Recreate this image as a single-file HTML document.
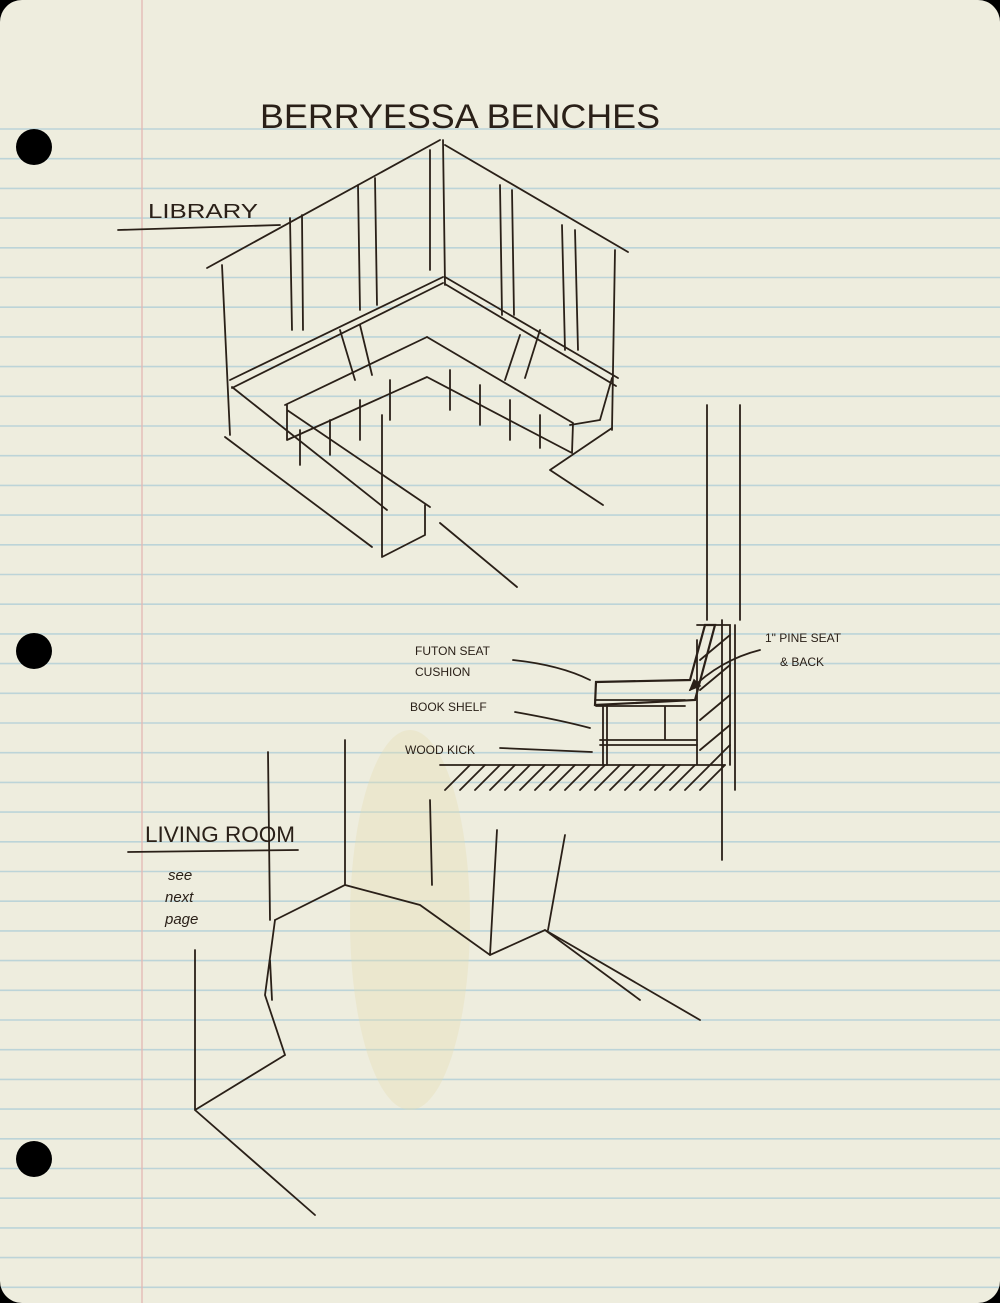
<!DOCTYPE html>
<html><head><meta charset="utf-8"><style>
html,body{margin:0;padding:0;background:#000;}
#p{position:relative;width:1000px;height:1303px;background:#eeedde;border-radius:22px;overflow:hidden;}
svg{position:absolute;left:0;top:0}
text{font-family:"Liberation Sans",sans-serif;fill:#2a2018}
</style></head><body><div id="p">
<svg width="1000" height="1303" viewBox="0 0 1000 1303">
<defs><marker id="a" markerWidth="8" markerHeight="8" refX="6" refY="4" orient="auto"><path d="M0 1 L7 4 L0 7 Z" fill="#2a2018"/></marker></defs>
<g stroke="#bcd4d8" stroke-width="1.6">
<line x1="0" y1="129" x2="1000" y2="129"/><line x1="0" y1="158.7" x2="1000" y2="158.7"/><line x1="0" y1="188.4" x2="1000" y2="188.4"/><line x1="0" y1="218.1" x2="1000" y2="218.1"/><line x1="0" y1="247.8" x2="1000" y2="247.8"/><line x1="0" y1="277.5" x2="1000" y2="277.5"/><line x1="0" y1="307.2" x2="1000" y2="307.2"/><line x1="0" y1="336.9" x2="1000" y2="336.9"/><line x1="0" y1="366.6" x2="1000" y2="366.6"/><line x1="0" y1="396.3" x2="1000" y2="396.3"/><line x1="0" y1="426" x2="1000" y2="426"/><line x1="0" y1="455.7" x2="1000" y2="455.7"/><line x1="0" y1="485.4" x2="1000" y2="485.4"/><line x1="0" y1="515.1" x2="1000" y2="515.1"/><line x1="0" y1="544.8" x2="1000" y2="544.8"/><line x1="0" y1="574.5" x2="1000" y2="574.5"/><line x1="0" y1="604.2" x2="1000" y2="604.2"/><line x1="0" y1="633.9" x2="1000" y2="633.9"/><line x1="0" y1="663.6" x2="1000" y2="663.6"/><line x1="0" y1="693.3" x2="1000" y2="693.3"/><line x1="0" y1="723" x2="1000" y2="723"/><line x1="0" y1="752.7" x2="1000" y2="752.7"/><line x1="0" y1="782.4" x2="1000" y2="782.4"/><line x1="0" y1="812.1" x2="1000" y2="812.1"/><line x1="0" y1="841.8" x2="1000" y2="841.8"/><line x1="0" y1="871.5" x2="1000" y2="871.5"/><line x1="0" y1="901.2" x2="1000" y2="901.2"/><line x1="0" y1="930.9" x2="1000" y2="930.9"/><line x1="0" y1="960.6" x2="1000" y2="960.6"/><line x1="0" y1="990.3" x2="1000" y2="990.3"/><line x1="0" y1="1020" x2="1000" y2="1020"/><line x1="0" y1="1049.7" x2="1000" y2="1049.7"/><line x1="0" y1="1079.4" x2="1000" y2="1079.4"/><line x1="0" y1="1109.1" x2="1000" y2="1109.1"/><line x1="0" y1="1138.8" x2="1000" y2="1138.8"/><line x1="0" y1="1168.5" x2="1000" y2="1168.5"/><line x1="0" y1="1198.2" x2="1000" y2="1198.2"/><line x1="0" y1="1227.9" x2="1000" y2="1227.9"/><line x1="0" y1="1257.6" x2="1000" y2="1257.6"/><line x1="0" y1="1287.3" x2="1000" y2="1287.3"/>
</g>
<line x1="142" y1="0" x2="142" y2="1303" stroke="#e3b7b2" stroke-width="1.3"/>
<circle cx="34" cy="147" r="18" fill="#000"/>
<circle cx="34" cy="651" r="18" fill="#000"/>
<circle cx="34" cy="1159" r="18" fill="#000"/>
<ellipse cx="410" cy="920" rx="60" ry="190" fill="#e6dcb2" opacity="0.35"/>
<g stroke="#2a2018" stroke-width="1.8" fill="none" stroke-linecap="round">
<path d="M440 140 L207 268 M445 145 L628 252 M443 140 L445 285 M222 265 L230 435 M615 250 L612 430"/>
<path d="M443 277 L230 380 M443 283 L232 388 M445 277 L618 378 M445 284 L616 386"/>
<path d="M290 218 L292 330 M302 215 L303 330 M358 185 L360 310 M375 178 L377 305 M430 150 L430 270 M500 185 L502 315 M512 190 L514 315 M562 225 L565 350 M575 230 L578 350"/>
<path d="M427 337 L285 405 M427 337 L573 423 M427 377 L287 440 M427 377 L572 453 M287 410 L430 507 M232 387 L387 510 M287 405 L287 440 M573 423 L572 453"/>
<path d="M340 330 L355 380 M360 325 L372 375 M520 335 L505 380 M540 330 L525 378"/>
<path d="M300 430 L300 465 M330 420 L330 455 M360 400 L360 440 M390 380 L390 420 M450 370 L450 410 M480 385 L480 425 M510 400 L510 440 M540 415 L540 448"/>
<path d="M225 437 L372 547 M382 415 L382 557 M382 557 L425 535 M425 505 L425 535 M440 523 L517 587 M550 470 L603 505 M550 470 L612 428 M612 378 L600 420 L570 425"/>
<path d="M118 230 L280 225"/>
<path d="M707 405 L707 620 M740 405 L740 620 M722 620 L722 860 M735 625 L735 790"/>
<path d="M440 765 L725 765 M697 625 L730 625 L730 765 M697 640 L697 765"/>
<path d="M596 682 L690 680 L705 625 L715 625 L695 700 L595 705 Z" stroke-width="2.2"/>
<path d="M595 700 L685 700 M596 706 L685 706 M603 705 L603 765 M607 705 L607 765 M600 740 L697 740 M600 745 L697 745 M665 706 L665 740"/>
<path d="M445 790 L470 765 M460 790 L485 765 M475 790 L500 765 M490 790 L515 765 M505 790 L530 765 M520 790 L545 765 M535 790 L560 765 M550 790 L575 765 M565 790 L590 765 M580 790 L605 765 M595 790 L620 765 M610 790 L635 765 M625 790 L650 765 M640 790 L665 765 M655 790 L680 765 M670 790 L695 765 M685 790 L710 765 M700 790 L725 765"/>
<path d="M700 660 L730 635 M700 690 L730 665 M700 720 L730 695 M700 750 L730 725 M710 765 L730 745"/>
<g marker-end="url(#a)"><path d="M513 660 Q560 665 590 680 M515 712 Q560 720 590 728 M500 748 L592 752 M760 650 Q720 660 690 690"/></g>
<path d="M268 752 L270 920 M345 740 L345 885 M430 800 L432 885 M497 830 L490 955 M565 835 L548 930"/>
<path d="M275 920 L345 885 L420 905 L490 955 L545 930 L640 1000 M545 930 L700 1020"/>
<path d="M275 920 L265 995 L285 1055 L195 1110 M195 950 L195 1110 L315 1215 M270 960 L272 1000"/>
<path d="M128 852 L298 850"/>
</g>
<text x="260" y="128" font-size="34" textLength="400" lengthAdjust="spacingAndGlyphs">BERRYESSA BENCHES</text>
<text x="148" y="218" font-size="20" textLength="110" lengthAdjust="spacingAndGlyphs">LIBRARY</text>
<text x="145" y="842" font-size="22" textLength="150" lengthAdjust="spacingAndGlyphs">LIVING ROOM</text>
<text x="168" y="880" font-size="15" font-style="italic">see</text>
<text x="165" y="902" font-size="15" font-style="italic">next</text>
<text x="165" y="924" font-size="15" font-style="italic">page</text>
<g font-size="12"><text x="415" y="655">FUTON SEAT</text><text x="415" y="676">CUSHION</text>
<text x="410" y="711">BOOK SHELF</text><text x="405" y="754">WOOD KICK</text>
<text x="765" y="642">1" PINE SEAT</text><text x="780" y="666">&amp; BACK</text></g>
</svg>
</div></body></html>
